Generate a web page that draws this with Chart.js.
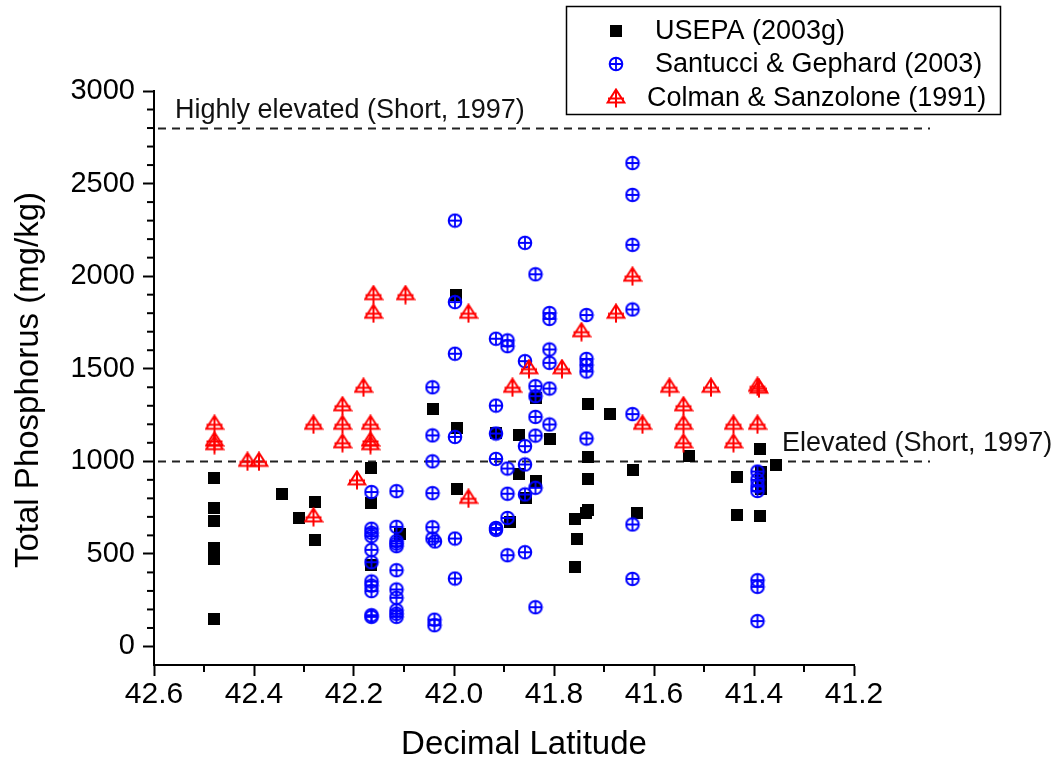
<!DOCTYPE html>
<html><head><meta charset="utf-8">
<script src="https://cdn.jsdelivr.net/npm/chart.js@4.4.0/dist/chart.umd.min.js"></script>
<style>html,body{margin:0;padding:0;background:#fff;}canvas{display:block;}</style>
</head><body>
<canvas id="c" width="1057" height="765"></canvas>
<script>
// ---- data ----
const usepaLatitude = [42.48,42.48,42.48,42.48,42.48,42.48, 42.345, 42.311, 42.279,42.279, 42.167,42.167,42.167, 42.108, 42.043, 41.996, 41.995,41.995, 41.916, 41.871,41.871, 41.888, 41.856, 41.837,41.837, 41.808, 41.759,41.759, 41.755, 41.733,41.733,41.733,41.733, 41.737, 41.688, 41.643, 41.634, 41.53, 41.434,41.434, 41.389,41.387,41.387,41.387,41.389, 41.356];
const usepaPhosphorus = [910,750,680,530,470,150, 825, 695, 780,574, 965,776,440, 610, 1280, 1900, 1181,853, 1152, 1142,929, 672, 800, 1340,895, 1121, 690,428, 583, 1310,1024,902,736, 722, 1253, 952, 722, 1031, 916,709, 1064,940,880,850,704, 978];

const santucciLatitude = [42.165,42.165,42.165,42.165,42.165,42.165,42.165,42.165,42.165,42.165,42.165,
  42.115,42.115,42.115,42.115,42.115,42.115,42.115,42.115,42.115,42.115,42.115,
  42.043,42.043,42.043,42.043,42.043,42.043, 42.038,42.039,42.039,
  41.998,41.998,41.998,41.998,41.998,41.998,
  41.916,41.916,41.916,41.916,41.916,41.916,
  41.893,41.893,41.893,41.893,41.893,41.893,
  41.858,41.858,41.858,41.858,41.858,41.858,
  41.837,41.837,41.837,41.837,41.837,41.837,41.837,
  41.809,41.809,41.809,41.809,41.809,41.809,
  41.735,41.735,41.735,41.735,41.735,
  41.643,41.643,41.643,41.643,41.643,41.643,41.643,
  41.393,41.393,41.393,41.393,41.393,41.393,41.393];
const santucciPhosphorus = [834,636,614,596,522,455,351,329,299,169,160,
  839,646,569,556,542,412,308,263,196,177,160,
  1400,1140,1000,828,644,583, 567,145,115,
  2300,1860,1581,1132,583,367,
  1662,1301,1150,1013,640,630,
  1653,1622,961,825,694,493,
  2180,1541,1082,983,821,509,
  2010,1406,1352,1240,1139,857,212,
  1801,1769,1604,1532,1393,1199,
  1790,1553,1520,1485,1123,
  2611,2439,2169,1820,1255,659,365,
  945,900,865,840,358,322,137];

const colmanLatitude = [42.479,42.479,42.479, 42.413, 42.39, 42.281,42.281, 42.223,42.223,42.223, 42.194, 42.181, 42.167,42.167,42.167, 42.161,42.161, 42.097, 41.971,41.971, 41.883, 41.85, 41.784, 41.745, 41.676, 41.643, 41.623, 41.569, 41.541,41.541,41.541, 41.486, 41.441,41.441, 41.393,41.39,41.393];
const colmanPhosphorus = [1200,1110,1090, 1000, 1000, 1200,700, 1300,1200,1100, 900, 1400, 1200,1110,1090, 1900,1800, 1900, 1800,800, 1400, 1500, 1500, 1700, 1800, 2000, 1200, 1400, 1300,1200,1100, 1400, 1200,1100, 1405,1395,1200];

const seriesNames = ['USEPA (2003g)', 'Santucci & Gephard (2003)', 'Colman & Sanzolone (1991)'];
const xTickValues = [41.2, 41.4, 41.6, 41.8, 42.0, 42.2, 42.4, 42.6];
const yTickValues = [0, 500, 1000, 1500, 2000, 2500, 3000];
const thresholdValues = [2800, 1000];
const thresholdLabels = ['Highly elevated (Short, 1997)', 'Elevated (Short, 1997)'];
const xTitle = 'Decimal Latitude';
const yTitle = 'Total Phosphorus (mg/kg)';

// ---- markers ----
const FONT = '"Liberation Sans", Arial, Helvetica, sans-serif';
function makeSquare(){ const c=document.createElement('canvas'); c.width=12; c.height=12; const g=c.getContext('2d'); g.fillStyle='#000'; g.fillRect(0,0,12,12); return c; }
function makeCircle(){ const c=document.createElement('canvas'); c.width=16; c.height=16; const g=c.getContext('2d'); g.strokeStyle='#0000ff'; g.lineWidth=2; g.beginPath(); g.arc(8,8,6.3,0,Math.PI*2); g.stroke(); g.lineWidth=1.8; g.beginPath(); g.moveTo(8,1.8); g.lineTo(8,14.2); g.moveTo(1.8,8); g.lineTo(14.2,8); g.stroke(); return c; }
function makeTriangle(){ const c=document.createElement('canvas'); c.width=20; c.height=20; const g=c.getContext('2d'); g.strokeStyle='#ff0000'; g.lineWidth=2; g.beginPath(); g.moveTo(10,1.5); g.lineTo(18.3,14.5); g.lineTo(1.7,14.5); g.closePath(); g.moveTo(10,1.5); g.lineTo(10,19.5); g.moveTo(2,10.5); g.lineTo(18,10.5); g.stroke(); return c; }
const markers = [makeSquare(), makeCircle(), makeTriangle()];

function pts(xs, ys){ return xs.map((x,i)=>({x:x, y:ys[i]})); }

const decorPlugin = {
  id: 'decor',
  beforeDatasetsDraw(chart){
    const {ctx, scales:{x, y}} = chart;
    ctx.save();
    ctx.strokeStyle = '#222'; ctx.lineWidth = 1.8; ctx.setLineDash([8,6]);
    const x0 = x.left + 4, x1 = x.getPixelForValue(41.048);
    thresholdValues.forEach(v => {
      const py = Math.round(y.getPixelForValue(v)) + 0.5;
      ctx.beginPath(); ctx.moveTo(x0, py); ctx.lineTo(x1, py); ctx.stroke();
    });
    ctx.restore();
  },
  afterDraw(chart){
    const {ctx, scales:{x, y}, chartArea} = chart;
    ctx.save();
    // minor ticks
    ctx.strokeStyle = '#000'; ctx.lineWidth = 2;
    for (let v = 100; v < 3000; v += 100) {
      if (v % 500 === 0) continue;
      const py = y.getPixelForValue(v);
      ctx.beginPath(); ctx.moveTo(chartArea.left - 7, py); ctx.lineTo(chartArea.left, py); ctx.stroke();
    }
    for (let k = 0; k < 7; k++) {
      const v = 41.3 + k * 0.2;
      const px = x.getPixelForValue(v);
      ctx.beginPath(); ctx.moveTo(px, chartArea.bottom); ctx.lineTo(px, chartArea.bottom + 7); ctx.stroke();
    }
    // threshold labels
    ctx.fillStyle = '#111'; ctx.font = '27px ' + FONT; ctx.textBaseline = 'alphabetic'; ctx.textAlign = 'left';
    ctx.fillText(thresholdLabels[0], 175, y.getPixelForValue(thresholdValues[0]) - 10);
    ctx.fillText(thresholdLabels[1], 782, y.getPixelForValue(thresholdValues[1]) - 10);
    // axis titles
    ctx.fillStyle = '#000'; ctx.font = '33px ' + FONT; ctx.textAlign = 'center'; ctx.textBaseline = 'middle';
    ctx.fillText(xTitle, 524, 745);
    ctx.save(); ctx.translate(29, 380); ctx.rotate(-Math.PI/2); ctx.fillText(yTitle, 0, 0); ctx.restore();
    // legend
    ctx.strokeStyle = '#000'; ctx.lineWidth = 1.5;
    ctx.strokeRect(566.5, 6.5, 434, 108);
    const rowsY = [31, 64, 98], textX = [655, 655, 647];
    ctx.font = '27px ' + FONT; ctx.textAlign = 'left'; ctx.textBaseline = 'middle';
    seriesNames.forEach((name, i) => {
      const m = markers[i];
      ctx.drawImage(m, 616 - m.width/2, rowsY[i] - m.height/2);
      ctx.fillText(name, textX[i], rowsY[i] + 1);
    });
    ctx.restore();
  }
};

new Chart(document.getElementById('c'), {
  type: 'scatter',
  data: {
    datasets: [
      { label: seriesNames[0], data: pts(usepaLatitude, usepaPhosphorus), pointStyle: markers[0], pointRadius: 6, order: 3 },
      { label: seriesNames[1], data: pts(santucciLatitude, santucciPhosphorus), pointStyle: markers[1], pointRadius: 6, order: 2 },
      { label: seriesNames[2], data: pts(colmanLatitude, colmanPhosphorus), pointStyle: markers[2], pointRadius: 6, order: 1 }
    ]
  },
  options: {
    responsive: false, animation: false, events: [],
    devicePixelRatio: 1,
    layout: { padding: { top: 91, right: 203, left: 0, bottom: 0 } },
    plugins: { legend: { display: false }, tooltip: { enabled: false } },
    clip: false,
    scales: {
      x: {
        type: 'linear', position: 'bottom', min: 41.2, max: 42.6, reverse: true,
        afterBuildTicks: s => { s.ticks = xTickValues.map(v => ({ value: v })); },
        afterFit: s => { s.height = 100; },
        ticks: { font: { family: FONT, size: 30 }, color: '#000', padding: 1, maxRotation: 0, autoSkip: false, callback: v => Number(v).toFixed(1) },
        grid: { drawOnChartArea: false, drawTicks: true, tickLength: 11, tickWidth: 2, tickColor: '#000' },
        border: { display: true, color: '#000', width: 2 }
      },
      y: {
        type: 'linear', position: 'left', min: -100, max: 3000,
        afterBuildTicks: s => { s.ticks = yTickValues.map(v => ({ value: v })); },
        afterFit: s => { s.width = 154; },
        ticks: { font: { family: FONT, size: 29 }, color: '#000', padding: 8, autoSkip: false, callback: v => String(v) },
        grid: { drawOnChartArea: false, drawTicks: true, tickLength: 11, tickWidth: 2, tickColor: '#000' },
        border: { display: true, color: '#000', width: 2 }
      }
    }
  },
  plugins: [decorPlugin]
});
</script>
</body></html>
